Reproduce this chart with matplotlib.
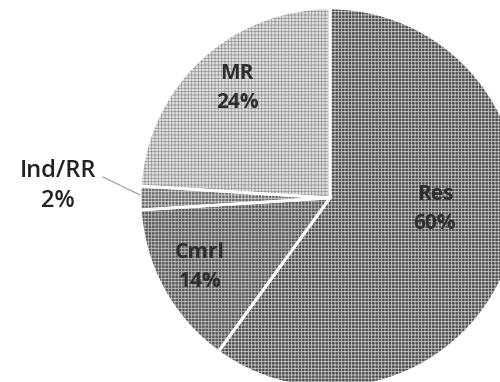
import matplotlib.pyplot as plt

# share of each sector, counter-clockwise from 12 o'clock
sectors = ['MR', 'Ind/RR', 'Cmrl', 'Res']
shares = [24, 2, 14, 60]

# grey fill + grid hatch for each wedge
fills = ['#e2e2e2', '#6a6a6a', '#585858', '#4e4e4e']
grids = ['#9a9a9a', '#d0d0d0', '#bcbcbc', '#c4c4c4']

plt.rcParams['hatch.linewidth'] = 0.6
plt.rcParams['font.family'] = ['Open Sans', 'DejaVu Sans']

fig = plt.figure(figsize=(5.0, 3.82), dpi=100)
ax = fig.add_axes([0, 0, 1, 1])

cx, cy, r = 330, 184, 190

# textured wedges first, then white borders on top
wedges, _ = ax.pie(shares, startangle=90, counterclock=True, colors=fills,
                   center=(cx, cy), radius=r, frame=True,
                   wedgeprops=dict(linewidth=0))
for w, g in zip(wedges, grids):
    w.set_edgecolor(g)
    w.set_hatch('+++++')

ax.pie(shares, startangle=90, counterclock=True, center=(cx, cy), radius=r,
       frame=True, wedgeprops=dict(fill=False, edgecolor='white', linewidth=2))

# labels
pcts = ['%d%%' % s for s in shares]
inner = dict(ha='center', va='center', fontsize=15, fontweight='bold',
             color='#2e2e2e', linespacing=1.45)
ax.text(237, 382 - 88, sectors[0] + '\n' + pcts[0], **inner)
ax.text(200, 382 - 267, sectors[2] + '\n' + pcts[2], **inner)
ax.text(435, 382 - 209, sectors[3] + '\n' + pcts[3], **inner)

ax.text(58, 382 - 186, sectors[1] + '\n' + pcts[1], ha='center', va='center',
        fontsize=17, fontweight='semibold', color='#222222', linespacing=1.35)
ax.plot([103, 140], [382 - 177, 382 - 195], color='#999999', lw=0.8)

ax.set_xlim(0, 500)
ax.set_ylim(0, 382)
ax.set_aspect('equal')
ax.axis('off')

fig.savefig('out.png', dpi=100)
